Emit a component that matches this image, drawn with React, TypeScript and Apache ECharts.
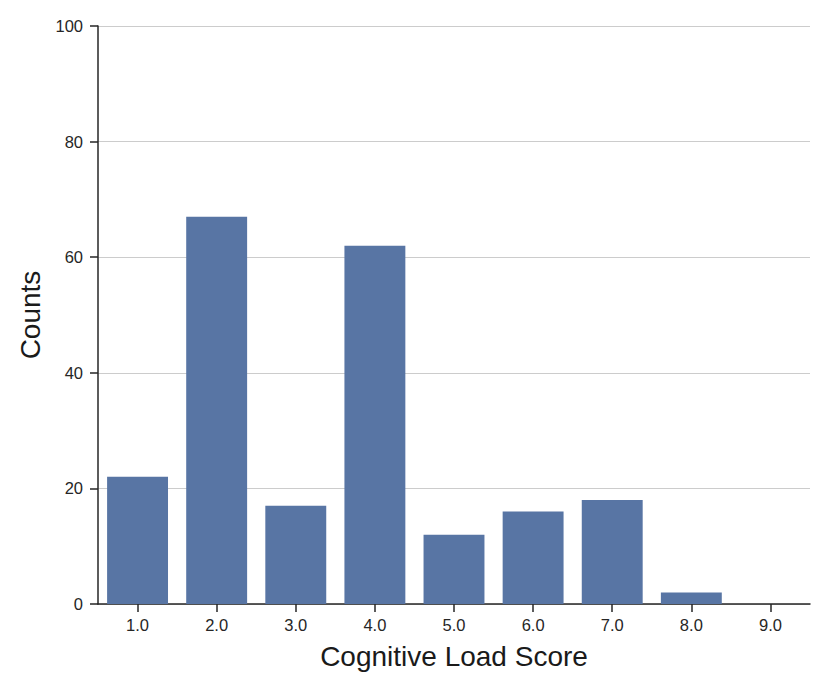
import React, { useEffect, useRef } from "react";
import * as echarts from "echarts";

const categories = ["1.0", "2.0", "3.0", "4.0", "5.0", "6.0", "7.0", "8.0", "9.0"];
const counts = [22, 67, 17, 62, 12, 16, 18, 2, 0];
const yMin = 0;
const yMax = 100;
const yInterval = 20;

const FONT = "Liberation Sans, Arial, sans-serif";

export default function App() {
  const ref = useRef<HTMLDivElement>(null);
  useEffect(() => {
    if (!ref.current) return;
    const chart = echarts.init(ref.current, undefined, { renderer: "svg" });
    chart.setOption({
      animation: false,
      textStyle: { fontFamily: FONT },
      grid: { left: 98, right: 20, top: 26, bottom: 88, containLabel: false },
      xAxis: {
        type: "category",
        data: categories,
        name: "Cognitive Load Score",
        nameLocation: "middle",
        nameGap: 38,
        nameTextStyle: { fontSize: 28, color: "#1a1a1a", fontFamily: FONT },
        axisLine: { show: true, lineStyle: { color: "#262626", width: 1.5 } },
        axisTick: { show: true, alignWithLabel: true, length: 8, lineStyle: { color: "#262626", width: 1.5 } },
        axisLabel: { fontSize: 16.5, color: "#262626", margin: 12, fontFamily: FONT },
        splitLine: { show: false },
      },
      yAxis: {
        type: "value",
        min: yMin,
        max: yMax,
        interval: yInterval,
        name: "Counts",
        nameLocation: "middle",
        nameGap: 50,
        nameTextStyle: { fontSize: 28, color: "#1a1a1a", fontFamily: FONT },
        axisLine: { show: true, lineStyle: { color: "#262626", width: 1.5 } },
        axisTick: { show: true, length: 8, lineStyle: { color: "#262626", width: 1.5 } },
        axisLabel: { fontSize: 16.5, color: "#262626", margin: 15, fontFamily: FONT },
        splitLine: { show: true, lineStyle: { color: "#cccccc", width: 1.2 } },
      },
      series: [
        {
          type: "bar",
          data: counts,
          barCategoryGap: "23%",
          itemStyle: { color: "#5875a4", borderWidth: 0 },
        },
      ],
    });
    return () => chart.dispose();
  }, []);
  return <div ref={ref} style={{ width: 830, height: 692, position: "absolute", left: 0, top: 0 }} />;
}
